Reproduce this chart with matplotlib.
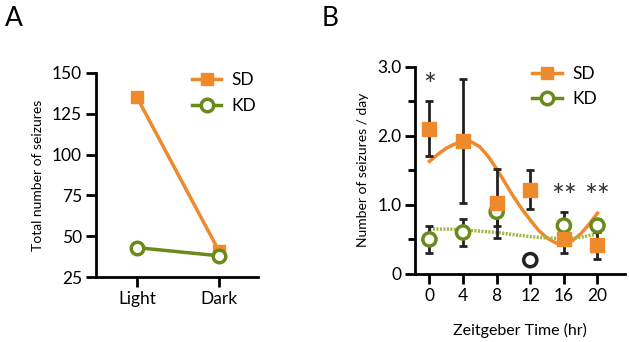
import numpy as np
import matplotlib
matplotlib.use('Agg')
import matplotlib.pyplot as plt

plt.rcParams['font.family'] = ['Lato', 'DejaVu Sans']

orange = '#ef8a2c'
green = '#6b8a1c'
green_fit = '#9fb843'

# panel A
phases = ['Light', 'Dark']
sd_total = [135, 41]
kd_total = [43, 38]

# panel B
zt = [0, 4, 8, 12, 16, 20]
sd_mean = [2.1, 1.92, 1.02, 1.22, 0.5, 0.42]
sd_err = [0.4, 0.9, 0.5, 0.28, 0.2, 0.2]
kd_mean = [0.5, 0.6, 0.9, 0.2, 0.7, 0.7]
kd_err = [0.2, 0.2, 0.2, 0.05, 0.2, 0.1]

# fitted curves (hourly)
fit_t = list(range(0, 21))
sd_fit = [1.63, 1.73, 1.82, 1.88, 1.92, 1.91, 1.84, 1.70, 1.52, 1.32, 1.12,
          0.94, 0.78, 0.63, 0.52, 0.45, 0.44, 0.48, 0.58, 0.72, 0.88]
kd_fit_t = [0, 2, 4, 6, 8, 10, 12, 14, 16, 18, 20]
kd_fit = [0.65, 0.65, 0.64, 0.62, 0.60, 0.57, 0.54, 0.52, 0.51, 0.53, 0.58]

stars = {0: ('*', 2.72), 16: ('**', 1.12), 20: ('**', 1.12)}

fig = plt.figure(figsize=(6.29, 3.42), dpi=100)
axA = fig.add_axes([0.1526, 0.190, 0.258, 0.597])
axB = fig.add_axes([0.660, 0.199, 0.334, 0.606])

def style(ax):
    for s in ['top', 'right']:
        ax.spines[s].set_visible(False)
    for s in ['left', 'bottom']:
        ax.spines[s].set_linewidth(2)
    ax.tick_params(width=2, length=7, labelsize=12.5, direction='out', pad=3)
    ax.tick_params(which='minor', width=2, length=5)

# --- A ---
x = np.arange(len(phases))
axA.plot(x, sd_total, color=orange, lw=2.5, marker='s', ms=9, label='SD')
axA.plot(x, kd_total, color=green, lw=2.5, marker='o', ms=9, mfc='white',
         mec=green, mew=2.5, label='KD')
axA.set_xlim(-0.5, 1.48)
axA.set_ylim(25, 150)
axA.set_yticks([25, 50, 75, 100, 125, 150])
axA.set_xticks(x)
axA.set_xticklabels(phases)
axA.set_ylabel('Total number of seizures', fontsize=10, labelpad=6)
style(axA)
axA.legend(loc='upper right', bbox_to_anchor=(1.085, 1.08), frameon=False,
           fontsize=12.5, handlelength=1.7, handletextpad=0.6, labelspacing=0.55)

# --- B ---
axB.plot(fit_t, sd_fit, color=orange, lw=2.5, zorder=2)
axB.plot(kd_fit_t, kd_fit, color=green_fit, lw=2.5, ls=(0, (0.6, 0.4)), zorder=2)
axB.errorbar(zt, sd_mean, yerr=sd_err, fmt='none', ecolor='#222222', elinewidth=2,
             capsize=3, capthick=2, zorder=3)
axB.errorbar(zt, kd_mean, yerr=kd_err, fmt='none', ecolor='#222222', elinewidth=2,
             capsize=3, capthick=2, zorder=3)
kd_edge = [green if t != 12 else '#222222' for t in zt]
axB.scatter(zt, kd_mean, s=90, marker='o', facecolor='white', edgecolor=kd_edge,
            linewidth=2.5, zorder=4)
axB.scatter(zt, sd_mean, s=100, marker='s', color=orange, zorder=5)
for t, (txt, yv) in stars.items():
    axB.text(t, yv, txt, ha='center', va='center', fontsize=22, color='#333333')
axB.plot([], [], color=orange, lw=2.5, marker='s', ms=9, label='SD')
axB.plot([], [], color=green, lw=2.5, marker='o', ms=9, mfc='white', mec=green,
         mew=2.5, label='KD')
axB.legend(loc='upper right', bbox_to_anchor=(0.94, 1.08), frameon=False,
           fontsize=12.5, handlelength=1.7, handletextpad=0.6, labelspacing=0.55)
axB.set_xlim(-1.7, 23.3)
axB.set_ylim(0, 3.0)
axB.set_xticks(zt)
axB.set_yticks([0, 1, 2, 3])
axB.set_yticklabels(['0', '1.0', '2.0', '3.0'])
axB.set_yticks([0.5, 1.5, 2.5], minor=True)
axB.set_ylabel('Number of seizures / day', fontsize=10, labelpad=6)
axB.set_xlabel('Zeitgeber Time (hr)', fontsize=11.5, labelpad=14)
style(axB)

fig.text(0.008, 0.925, 'A', fontsize=19)
fig.text(0.512, 0.925, 'B', fontsize=19)

fig.savefig('out.png', dpi=100)
